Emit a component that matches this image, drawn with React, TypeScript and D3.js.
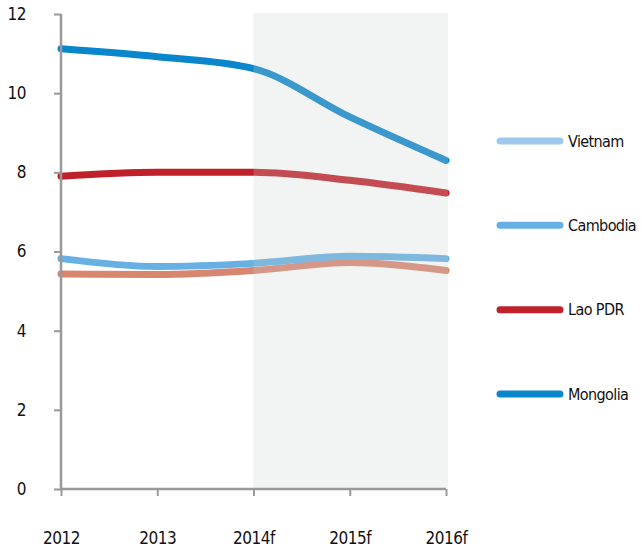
import React, { useEffect, useRef } from 'react';
import * as d3 from 'd3';

const years = ['2012', '2013', '2014f', '2015f', '2016f'];
const forecastStart = '2014f';
const forecastEnd = '2016f';

const vietnam = [5.43, 5.42, 5.52, 5.72, 5.52];
const cambodia = [5.82, 5.62, 5.7, 5.88, 5.82];
const laoPdr = [7.9, 8.0, 8.0, 7.8, 7.48];
const mongolia = [11.12, 10.92, 10.62, 9.4, 8.3];

const seriesNames = ['Vietnam', 'Cambodia', 'Lao PDR', 'Mongolia'];
const lineColors = ['#d98670', '#66b0e3', '#c0202a', '#0a86cc'];
const legendColors = ['#9ec8ec', '#66b0e3', '#c0202a', '#0a86cc'];

const yTicks = [0, 2, 4, 6, 8, 10, 12];

const FONT = "'DejaVu Sans Condensed', 'Liberation Sans Narrow', sans-serif";

export default function App() {
  const svgRef = useRef<SVGSVGElement>(null);

  useEffect(() => {
    if (!svgRef.current) return;
    const svg = d3.select(svgRef.current);
    svg.selectAll('*').remove();

    const margin = { top: 14, left: 61 };
    const width = 385;
    const height = 475;

    const g = svg.append('g').attr('transform', `translate(${margin.left},${margin.top})`);

    const x = d3.scalePoint().domain(years).range([0, width]);
    const y = d3.scaleLinear().domain([0, 12]).range([height, 0]);

    const data = [vietnam, cambodia, laoPdr, mongolia];

    const line = d3.line<number>()
      .x((_, i) => x(years[i])!)
      .y(d => y(d))
      .curve(d3.curveMonotoneX);

    g.selectAll('path.series')
      .data(data)
      .enter()
      .append('path')
      .attr('class', 'series')
      .attr('d', d => line(d))
      .attr('fill', 'none')
      .attr('stroke', (_, i) => lineColors[i])
      .attr('stroke-width', 7)
      .attr('stroke-linecap', 'round');

    // forecast shading drawn over the lines
    const fx0 = x(forecastStart)!;
    const fx1 = x(forecastEnd)!;
    g.append('rect')
      .attr('x', fx0)
      .attr('y', -1)
      .attr('width', fx1 - fx0 + 2)
      .attr('height', height + 1)
      .attr('fill', '#ccd0d0')
      .attr('opacity', 0.25);

    // y axis
    const yAxis = g.append('g')
      .call(d3.axisLeft(y).tickValues(yTicks).tickSize(7).tickPadding(28).tickFormat(d3.format('d')));
    yAxis.select('.domain').attr('stroke', '#999').attr('stroke-width', 2.5).attr('d', `M0,0V${height}`);
    yAxis.selectAll('.tick line').attr('stroke', '#999').attr('stroke-width', 2);
    yAxis.selectAll('text')
      .style('font-family', FONT)
      .style('font-size', '17px')
      .style('letter-spacing', '-0.5px')
      .attr('fill', '#111');

    // x axis
    const xAxis = g.append('g')
      .attr('transform', `translate(0,${height})`)
      .call(d3.axisBottom(x).tickSize(7).tickPadding(36));
    xAxis.select('.domain').attr('stroke', '#999').attr('stroke-width', 2.5).attr('d', `M0,0H${width}`);
    xAxis.selectAll('.tick line').attr('stroke', '#999').attr('stroke-width', 2);
    xAxis.selectAll('text')
      .style('font-family', FONT)
      .style('font-size', '17px')
      .style('letter-spacing', '-0.5px')
      .attr('fill', '#111');

    // legend
    const legendY = d3.scalePoint().domain(seriesNames).range([141, 394]);
    const legend = svg.append('g');
    seriesNames.forEach((name, i) => {
      const ly = legendY(name)!;
      legend.append('line')
        .attr('x1', 500).attr('x2', 560)
        .attr('y1', ly).attr('y2', ly)
        .attr('stroke', legendColors[i])
        .attr('stroke-width', 7)
        .attr('stroke-linecap', 'round');
      legend.append('text')
        .attr('x', 568)
        .attr('y', ly)
        .attr('dy', '0.35em')
        .style('font-family', FONT)
        .style('font-size', '16px')
        .style('letter-spacing', '-0.6px')
        .attr('fill', '#111')
        .text(name);
    });
  }, []);

  return <svg ref={svgRef} width={644} height={550} style={{ display: 'block', position: 'absolute', left: 0, top: 0 }} />;
}
